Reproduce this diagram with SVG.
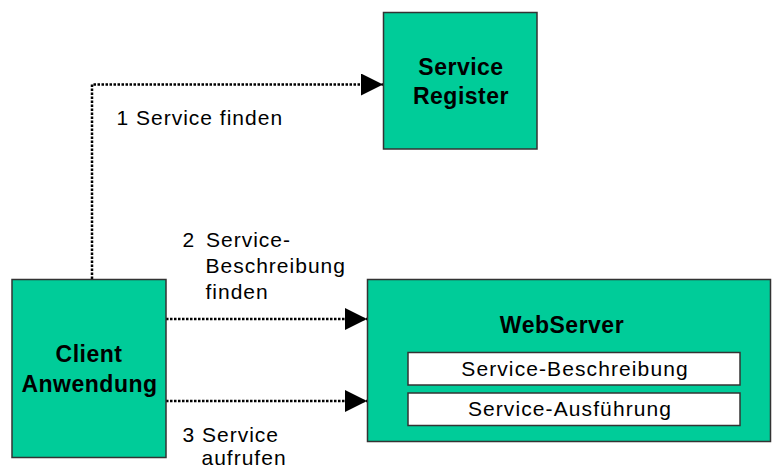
<svg xmlns="http://www.w3.org/2000/svg" width="772" height="469" viewBox="0 0 772 469">
  <style>
    .box { fill: #00CC99; stroke: #333333; stroke-width: 1.5; }
    .inner { fill: #ffffff; stroke: #333333; stroke-width: 1.5; }
    .title { font-family: "Liberation Sans", Arial, sans-serif; font-weight: bold; font-size: 23px; letter-spacing: 0.5px; fill: #000; text-anchor: middle; }
    .label { font-family: "Liberation Sans", Arial, sans-serif; font-size: 21px; letter-spacing: 1px; fill: #000; }
    .inlabel { font-family: "Liberation Sans", Arial, sans-serif; font-size: 21px; letter-spacing: 1.1px; fill: #000; text-anchor: middle; }
    .flow { fill: none; stroke: #000; stroke-width: 2.5; stroke-dasharray: 2.5 1.5; }
  </style>
  <defs>
    <marker id="arrow" markerUnits="userSpaceOnUse" markerWidth="22" markerHeight="22" refX="22" refY="11" orient="auto">
      <path d="M0,0 L22,11 L0,22 Z" fill="#000"/>
    </marker>
  </defs>
  <rect width="772" height="469" fill="#ffffff"/>

  <g id="connectors">
    <path class="flow" d="M92,279 V84.5 H383" marker-end="url(#arrow)"/>
    <path class="flow" d="M166,319 H367" marker-end="url(#arrow)"/>
    <path class="flow" d="M166,401 H367" marker-end="url(#arrow)"/>
  </g>

  <g id="service-register">
    <rect class="box" x="383.5" y="12.5" width="153.5" height="136.5"/>
    <text class="title" x="461" y="75">Service</text>
    <text class="title" x="461" y="103.5">Register</text>
  </g>

  <g id="client">
    <rect class="box" x="12" y="279.5" width="154" height="178"/>
    <text class="title" x="89" y="361.5">Client</text>
    <text class="title" x="89.5" y="391.5">Anwendung</text>
  </g>

  <g id="webserver">
    <rect class="box" x="367.5" y="279.5" width="403" height="162"/>
    <text class="title" x="562" y="332.5">WebServer</text>
    <g id="service-beschreibung">
      <rect class="inner" x="408" y="352.5" width="332" height="32.5"/>
      <text class="inlabel" x="575" y="376">Service-Beschreibung</text>
    </g>
    <g id="service-ausfuehrung">
      <rect class="inner" x="408" y="393" width="332" height="32.5"/>
      <text class="inlabel" x="570" y="416">Service-Ausführung</text>
    </g>
  </g>

  <g id="labels">
    <text class="label" x="116.5" y="125">1 Service finden</text>
    <text class="label" x="182.5" y="247">2</text>
    <text class="label" x="206" y="247">Service-</text>
    <text class="label" x="205.5" y="273">Beschreibung</text>
    <text class="label" x="205.5" y="299">finden</text>
    <text class="label" x="182.5" y="441.5">3 Service</text>
    <text class="label" x="201.5" y="465">aufrufen</text>
  </g>
</svg>
